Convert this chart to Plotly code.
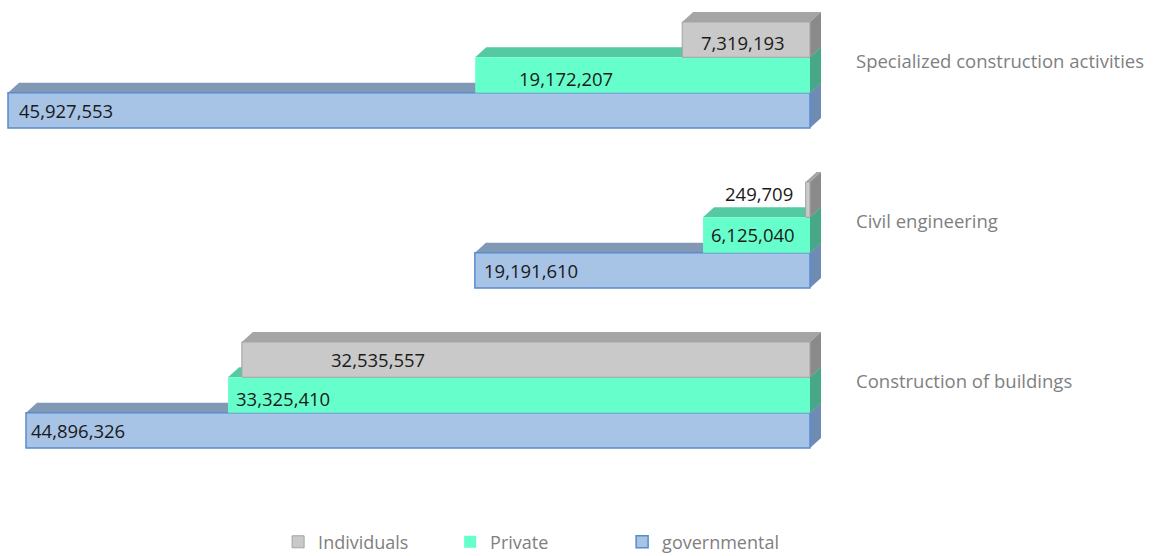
import plotly.graph_objects as go

# ---------------- data ----------------
categories = ["Construction of buildings", "Civil engineering", "Specialized construction activities"]
series_names = ["governmental", "Private", "Individuals"]
governmental = [44896326, 19191610, 45927553]
private = [33325410, 6125040, 19172207]
individuals = [32535557, 249709, 7319193]
series_values = [governmental, private, individuals]

# ---------------- style / layout constants ----------------
PAGE_W, PAGE_H = 1154, 556
M_L, M_R, M_T, M_B = 5, 329, 2, 86
PLOT_W = PAGE_W - M_L - M_R
PLOT_H = PAGE_H - M_T - M_B
X_RANGE = [46099130, -858990]      # reversed axis, zero near right edge
Y_RANGE = [-0.469, 2.456]
BARGAP = 0.3375
DEPTH_DX_PX, DEPTH_DY_PX = 11, 10
FONT = "Open Sans"

front_col = ["#a7c3e6", "#66ffcc", "#c9c9c9"]
edge_col = ["#5b8bcb", "#66ffcc", "#a3a3a3"]
edge_w = [1.5, 0, 1]
top_col = ["#8199b5", "#55c9a2", "#a5a5a5"]
side_col = ["#6d8bb3", "#46a886", "#8a8a8a"]

# per-label pixel nudges (style only)
label_dx = [[3, 7, 9], [6, 6, 42], [87, -83, 17]]
label_dy = [[0, 0, 0], [-4, 0, -4], [0, 6, -3]]

x_per_px = (X_RANGE[0] - X_RANGE[1]) / PLOT_W
y_per_px = (Y_RANGE[1] - Y_RANGE[0]) / PLOT_H
ddx = -DEPTH_DX_PX * x_per_px
ddy = DEPTH_DY_PX * y_per_px
n_series = len(series_values)
bar_w = (1 - BARGAP) / n_series
ypos = list(range(len(categories)))

fig = go.Figure()
shapes = []
annotations = []
for i, (name, vals) in enumerate(zip(series_names, series_values)):
    fig.add_trace(go.Bar(
        name=name, orientation="h", x=vals, y=ypos,
        marker=dict(color=front_col[i], line=dict(color=edge_col[i], width=edge_w[i])),
        hoverinfo="x+name",
    ))
    for j, v in enumerate(vals):
        yc = j + (i - (n_series - 1) / 2) * bar_w
        y0, y1 = yc - bar_w / 2, yc + bar_w / 2
        top = f"M {v},{y1} L 0,{y1} L {ddx},{y1 + ddy} L {v + ddx},{y1 + ddy} Z"
        side = f"M 0,{y0} L 0,{y1} L {ddx},{y1 + ddy} L {ddx},{y0 + ddy} Z"
        for path, col in ((top, top_col[i]), (side, side_col[i])):
            shapes.append(dict(type="path", path=path, xref="x", yref="y",
                               fillcolor=col, line=dict(width=0), layer="below"))
        annotations.append(dict(
            x=v, y=yc, xref="x", yref="y", text=f"{v:,}", showarrow=False,
            xanchor="left", yanchor="middle", xshift=label_dx[i][j], yshift=label_dy[i][j],
            font=dict(family=FONT, size=18.5, color="#1a1a1a"),
        ))

fig.update_layout(
    width=PAGE_W, height=PAGE_H,
    margin=dict(l=M_L, r=M_R, t=M_T, b=M_B),
    barmode="group", bargap=BARGAP, bargroupgap=0,
    paper_bgcolor="white", plot_bgcolor="rgba(0,0,0,0)",
    shapes=shapes, annotations=annotations,
    xaxis=dict(range=X_RANGE, visible=False, showgrid=False, zeroline=False),
    yaxis=dict(range=Y_RANGE, side="right", tickvals=ypos, ticktext=categories,
               showgrid=False, zeroline=False, showline=False, ticks="",
               ticklabelstandoff=30, ticklabelshift=-13,
               tickfont=dict(family=FONT, size=18.5, color="#7f7f7f")),
    legend=dict(orientation="h", traceorder="reversed",
                xref="container", yref="container", x=0.241, y=0.025,
                xanchor="left", yanchor="middle", entrywidth=127,
                font=dict(family=FONT, size=18, color="#808080")),
    showlegend=True,
)

fig.write_html("out.html", config={"displayModeBar": False},
               post_script="document.body.style.margin='0';")
